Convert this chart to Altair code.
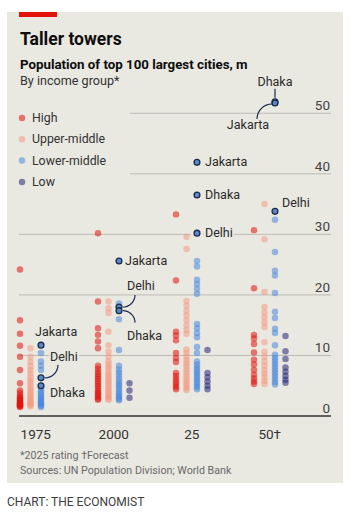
import json
import math
import altair as alt
import pandas as pd

# ---------------- data ----------------
years = [1975, 2000, 2025, 2050]
year_labels = ["1975", "2000", "25", "50†"]
groups = ["High", "Upper-middle", "Lower-middle", "Low"]
y_ticks = [0, 10, 20, 30, 40, 50]

high_1975 = [24.2, 15.8, 13.6, 11.6, 9.8, 7.6, 5.4, 4.2, 3.8, 3.4, 3.1, 2.9, 2.7, 2.5, 2.3, 2.1, 2.0, 1.9, 1.8, 1.7, 1.6, 1.5]
upper_1975 = [11.2, 9.8, 8.9, 8.2, 7.6, 7.0, 6.4, 5.9, 5.4, 4.9, 4.5, 4.1, 3.7, 3.3, 3.0, 2.7, 2.4, 2.2, 2.0, 1.8, 1.6]
lower_1975 = [10.4, 9.0, 8.3, 7.6, 4.5, 4.1, 3.7, 3.4, 3.1, 2.8, 2.5, 2.3, 2.1, 1.9, 1.7, 1.5]
low_1975 = []

high_2000 = [30.2, 18.9, 14.5, 13.4, 12.3, 11.2, 8.3, 7.8, 7.3, 6.9, 6.5, 6.1, 5.7, 5.3, 4.9, 4.5, 4.1, 3.8, 3.5, 3.2, 2.9, 2.7]
upper_2000 = [18.9, 17.8, 17.0, 13.9, 11.7, 10.6, 9.8, 9.0, 8.5, 8.0, 7.5, 7.0, 6.6, 6.2, 5.8, 5.4, 5.0, 4.6, 4.2, 3.8, 3.5, 3.2, 2.9, 2.7]
lower_2000 = [18.6, 16.0, 10.9, 8.3, 7.7, 7.2, 6.7, 6.2, 5.7, 5.3, 4.9, 4.5, 4.1, 3.7, 3.4, 3.1, 2.8, 2.6]
low_2000 = [5.4, 4.2, 3.0]

high_2025 = [33.3, 22.4, 13.9, 13.3, 12.5, 10.4, 9.6, 8.9, 7.1, 6.6, 6.1, 5.6, 5.2, 4.8, 4.4]
upper_2025 = [29.6, 27.6, 19.0, 18.2, 17.4, 16.6, 15.8, 15.0, 14.2, 13.6, 11.0, 10.4, 9.8, 9.2, 8.7, 8.2, 7.7, 7.2, 6.7, 6.2, 5.8, 5.4, 5.0, 4.6, 4.3]
lower_2025 = [25.6, 24.7, 22.5, 21.8, 21.0, 20.2, 15.2, 14.5, 13.7, 13.0, 11.4, 10.4, 9.0, 8.5, 8.0, 7.6, 7.2, 6.8, 6.4, 6.0, 5.6, 5.2, 4.8, 4.4]
low_2025 = [10.9, 7.1, 6.4, 5.7, 5.0, 4.4]

high_2050 = [30.7, 21.1, 13.4, 12.8, 11.9, 10.5, 9.3, 8.5, 7.6, 6.8, 6.2, 5.7, 5.3]
upper_2050 = [35.0, 29.2, 20.5, 18.0, 17.1, 16.3, 15.5, 14.7, 12.2, 10.6, 9.8, 9.0, 8.3, 7.6, 7.0, 6.4, 5.8, 5.3]
lower_2050 = [32.4, 27.1, 24.0, 23.2, 20.3, 17.2, 16.2, 14.4, 13.7, 11.7, 10.1, 9.6, 9.1, 8.6, 8.1, 7.6, 7.1, 6.6, 6.1, 5.6, 5.2]
low_2050 = [13.2, 10.7, 9.4, 8.0, 7.3, 6.6, 6.0, 5.5]

labeled_city = ["Jakarta", "Delhi", "Dhaka", "Jakarta", "Delhi", "Dhaka",
                "Jakarta", "Dhaka", "Delhi", "Dhaka", "Jakarta", "Delhi"]
labeled_year = [1975, 1975, 1975, 2000, 2000, 2000, 2025, 2025, 2025, 2050, 2050, 2050]
labeled_group = ["Lower-middle"] * 12
labeled_value = [11.7, 6.3, 5.0, 25.6, 18.0, 17.4, 41.9, 36.5, 30.2, 51.9, 51.7, 33.8]

footnote_1 = "*2025 rating     †Forecast"
footnote_2 = "Sources: UN Population Division; World Bank"

# ---------------- style / layout ----------------
BG = "#e9e8e1"
RED = "#e3120b"
COLORS = ["#e3120b", "#f49a84", "#4a86dd", "#26247c"]
DOT_OPACITY = 0.55
DARK = "#1b2a4a"
LEADER = "#1b2a4a"
TEXT = "#2b2b2b"
GRID = "#bdbbb4"
FONT = "Roboto"
W, H = 312, 333
DODGE = 3.365              # x offset (in years) between income-group columns
XDOM = [1974.68, 2074.68]
YDOM = [0, 55]
PX_PER_YEAR = W / (XDOM[1] - XDOM[0])
PX_PER_UNIT = H / (YDOM[1] - YDOM[0])
LEGEND_TOP, LEGEND_STEP = 35, 21.3


def arc_pts(cx, cy, r, a0, a1, n=8):
    """Quarter-arc leader line, pixel offsets from the labelled dot (y down)."""
    out = []
    for k in range(n + 1):
        a = math.radians(a0 + (a1 - a0) * k / n)
        out.append((cx + r * math.cos(a), cy + r * math.sin(a)))
    return out


# label placement relative to its dot: (dx, dy, align, leader line offsets in px)
label_layout = [
    (-6, -13, "left", None),
    (9, -21, "left", arc_pts(4, -13, 13, 0, 90)),
    (9, 7, "left", None),
    (6, 0, "left", None),
    (8, -21, "left", arc_pts(4, -12, 12, 0, 90)),
    (8, 25, "left", arc_pts(4, 12, 12, -90, 0)),
    (8, 0, "left", None),
    (8, 0, "left", None),
    (8, 0, "left", None),
    (0, -20, "center", [(0, -13), (0, -4)]),
    (-27, 22, "center", arc_pts(-3, 16, 15, 180, 270)),
    (7, -8, "left", None),
]

series = [
    (1975, "High", high_1975), (1975, "Upper-middle", upper_1975), (1975, "Lower-middle", lower_1975), (1975, "Low", low_1975),
    (2000, "High", high_2000), (2000, "Upper-middle", upper_2000), (2000, "Lower-middle", lower_2000), (2000, "Low", low_2000),
    (2025, "High", high_2025), (2025, "Upper-middle", upper_2025), (2025, "Lower-middle", lower_2025), (2025, "Low", low_2025),
    (2050, "High", high_2050), (2050, "Upper-middle", upper_2050), (2050, "Lower-middle", lower_2050), (2050, "Low", low_2050),
]
rows = [{"year": yr, "group": g, "value": v} for yr, g, vals in series for v in vals]
dots = pd.DataFrame(rows)

xcalc = f"datum.year + {DODGE} * indexof({json.dumps(groups)}, datum.group)"
xcenter = f"datum.year + {DODGE} * 1.5"


def X():
    return alt.X("xpos:Q", scale=alt.Scale(domain=XDOM, nice=False, zero=False), axis=None)


def Y(field="value"):
    return alt.Y(f"{field}:Q", scale=alt.Scale(domain=YDOM, nice=False, zero=False), axis=None)


color_enc = alt.Color("group:N", scale=alt.Scale(domain=groups, range=COLORS), legend=None)
one = pd.DataFrame({"a": [0]})

layers = []

# panel and red bar
layers.append(alt.Chart(one).mark_rect(color=BG).encode(
    x=alt.value(-12), x2=alt.value(324), y=alt.value(-71), y2=alt.value(400)))
layers.append(alt.Chart(one).mark_rect(color=RED).encode(
    x=alt.value(0), x2=alt.value(38), y=alt.value(-71), y2=alt.value(-66)))


def txt(text, x, y, size, weight="normal", color=TEXT):
    return alt.Chart(one).mark_text(text=text, font=FONT, fontSize=size, fontWeight=weight,
                                    align="left", baseline="alphabetic", color=color).encode(
        x=alt.value(x), y=alt.value(y))


layers.append(txt("Taller towers", 1, -38.5, 17.5, "bold", "#0d0d0d"))
layers.append(txt("Population of top 100 largest cities, m", 1, -13.7, 13.3, "bold", "#0d0d0d"))
layers.append(txt("By income group*", 1, 2.3, 12.6, "normal", "#333333"))

# gridlines
ticks = pd.DataFrame({"value": y_ticks})
layers.append(alt.Chart(ticks).transform_filter("datum.value > 0 && datum.value < 40").mark_rule(
    color=GRID, strokeWidth=1).encode(y=Y(), x=alt.value(0), x2=alt.value(W)))
layers.append(alt.Chart(ticks).transform_filter("datum.value >= 40").mark_rule(
    color=GRID, strokeWidth=1).encode(y=Y(), x=alt.value(111), x2=alt.value(W)))
layers.append(alt.Chart(ticks).transform_filter("datum.value == 0").mark_rule(
    color="#333333", strokeWidth=1.4).encode(y=Y(), x=alt.value(0), x2=alt.value(W)))
# y labels
layers.append(alt.Chart(ticks).mark_text(font=FONT, fontSize=13.5, align="right", baseline="alphabetic",
                                         dy=-3, color="#444444").encode(
    y=Y(), x=alt.value(W - 1), text="value:Q"))
# x labels
xl = pd.DataFrame({"year": years, "label": year_labels})
layers.append(alt.Chart(xl).transform_calculate(xpos=xcenter).mark_text(
    font=FONT, fontSize=13.5, align="center", baseline="alphabetic", color="#333333").encode(
    x=X(), y=alt.value(355.5), text="label:N"))

# legend (one row per income group)
for gi, g in enumerate(groups):
    legrow = pd.DataFrame({"group": [g]})
    ly = LEGEND_TOP + LEGEND_STEP * gi
    layers.append(alt.Chart(legrow).mark_circle(size=42, opacity=DOT_OPACITY).encode(
        x=alt.value(3), y=alt.value(ly), color=color_enc))
    layers.append(alt.Chart(legrow).mark_text(font=FONT, fontSize=12.3, align="left", baseline="middle",
                                              color="#333333").encode(
        x=alt.value(13), y=alt.value(ly), text="group:N"))

lab = pd.DataFrame({"city": labeled_city, "year": labeled_year, "group": labeled_group, "value": labeled_value})

# text halos
for i, (dx, dy, align, conn) in enumerate(label_layout):
    layers.append(alt.Chart(lab.iloc[[i]]).transform_calculate(xpos=xcalc).mark_text(
        font=FONT, fontSize=12.5, align=align, baseline="middle", dx=dx, dy=dy,
        color=BG, stroke=BG, strokeWidth=4).encode(x=X(), y=Y(), text="city:N"))

# labeled dot halos
layers.append(alt.Chart(lab).transform_calculate(xpos=xcalc).mark_circle(
    size=150, color=BG, opacity=1).encode(x=X(), y=Y()))

# all dots
layers.append(alt.Chart(dots).transform_calculate(xpos=xcalc).mark_circle(
    size=42, opacity=DOT_OPACITY).encode(x=X(), y=Y(), color=color_enc))

# labeled dots
layers.append(alt.Chart(lab).transform_calculate(xpos=xcalc).mark_point(
    shape="circle", size=34, filled=True, fill="#5b88c7", stroke=DARK, strokeWidth=1.3, opacity=1).encode(
    x=X(), y=Y()))

# labels
for i, (dx, dy, align, conn) in enumerate(label_layout):
    layers.append(alt.Chart(lab.iloc[[i]]).transform_calculate(xpos=xcalc).mark_text(
        font=FONT, fontSize=12.5, align=align, baseline="middle",
        dx=dx, dy=dy, color=TEXT).encode(x=X(), y=Y(), text="city:N"))

# leader lines: pixel offsets turned into data space through the scale factors
conn_rows = []
for i, (dx, dy, align, conn) in enumerate(label_layout):
    if conn is None:
        continue
    for k, (px, py) in enumerate(conn):
        conn_rows.append({"id": i, "k": k, "year": labeled_year[i], "group": labeled_group[i],
                          "value": labeled_value[i], "px": px, "py": py})
conn_df = pd.DataFrame(conn_rows)
layers.append(alt.Chart(conn_df).transform_calculate(
    xpos=f"({xcalc}) + datum.px / {PX_PER_YEAR}",
    yv=f"datum.value - datum.py / {PX_PER_UNIT}",
).mark_line(color=LEADER, strokeWidth=1.2).encode(
    x=X(), y=Y("yv"), detail="id:N", order="k:Q"))

# footnotes
layers.append(txt(footnote_1, 1, 375.5, 10.7, "normal", "#6a6a6a"))
layers.append(txt(footnote_2, 1, 390.5, 10.7, "normal", "#6a6a6a"))
layers.append(txt("CHART: THE ECONOMIST", -12, 423, 12, "normal", "#3d3d3d"))

chart = alt.layer(*layers).properties(
    width=W, height=H,
    padding={"left": 19, "top": 83, "right": 20, "bottom": 104},
    autosize=alt.AutoSizeParams(type="none"),
    background="white",
).configure_view(stroke=None)

chart.save("out.html", embed_options={"renderer": "svg", "actions": False})
